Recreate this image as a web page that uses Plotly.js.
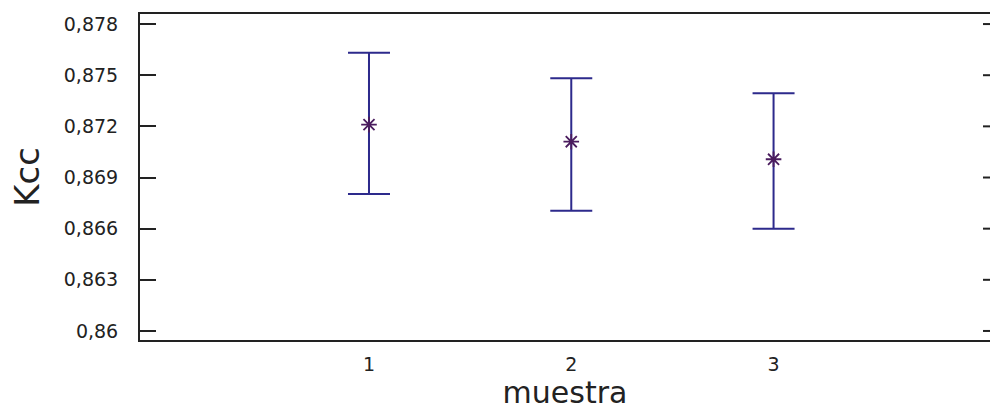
<!DOCTYPE html>
<html>
<head>
<meta charset="utf-8">
<script src="https://cdn.plot.ly/plotly-3.0.1.min.js"></script>
<style>
html,body{margin:0;padding:0;overflow:hidden;background:#fff;}
#chart{width:990px;height:412px;}
</style>
</head>
<body>
<div id="chart"></div>
<script>
var muestras = [1, 2, 3];
var kccMedia = [0.8721, 0.8711, 0.87007];
var kccSuperior = [0.87631, 0.87482, 0.87394];
var kccInferior = [0.86804, 0.86705, 0.86600];
var yTickVals = [0.86, 0.863, 0.866, 0.869, 0.872, 0.875, 0.878];
var yTickText = ['0,86', '0,863', '0,866', '0,869', '0,872', '0,875', '0,878'];
var xTickVals = [1, 2, 3];
var xTickText = ['1', '2', '3'];

var errPlus = kccMedia.map(function(v, i){ return kccSuperior[i] - v; });
var errMinus = kccMedia.map(function(v, i){ return v - kccInferior[i]; });

var trace = {
  x: muestras,
  y: kccMedia,
  type: 'scatter',
  mode: 'markers',
  marker: {symbol: 'asterisk-open', size: 13, color: '#4a1c5e', line: {width: 1.8, color: '#4a1c5e'}},
  error_y: {type: 'data', symmetric: false, array: errPlus, arrayminus: errMinus,
            color: '#2d2a8c', thickness: 2, width: 21},
  showlegend: false,
  hoverinfo: 'none'
};

var yRange = [0.85947, 0.87859];
var plotWidthPx = 850;
var rightTickLenPx = 7;

// short tick marks along the right-hand edge, one per y tick value
var rightTicks = yTickVals.map(function(v){
  return {type: 'line', xref: 'paper', yref: 'y',
          x0: 1 - rightTickLenPx / plotWidthPx, x1: 1, y0: v, y1: v,
          line: {color: '#222222', width: 2}};
});

var layout = {
  width: 990,
  height: 412,
  margin: {l: 140, r: 0, t: 14, b: 72, pad: 0},
  paper_bgcolor: '#ffffff',
  plot_bgcolor: '#ffffff',
  showlegend: false,
  shapes: rightTicks,
  xaxis: {
    range: [-0.132, 4.07],
    tickvals: xTickVals,
    ticktext: xTickText,
    ticks: '',
    showgrid: false,
    zeroline: false,
    showline: true,
    linecolor: '#222222',
    linewidth: 2,
    mirror: true,
    ticklabelstandoff: 6,
    tickfont: {family: 'DejaVu Sans', size: 19, color: '#222222'},
    title: {text: 'muestra', font: {family: 'DejaVu Sans', size: 30, color: '#222222'}, standoff: 4}
  },
  yaxis: {
    range: yRange,
    tickvals: yTickVals,
    ticktext: yTickText,
    ticks: 'inside',
    ticklen: 16,
    tickwidth: 2,
    tickcolor: '#222222',
    showgrid: false,
    zeroline: false,
    showline: true,
    linecolor: '#222222',
    linewidth: 2,
    mirror: false,
    ticklabelstandoff: 16,
    tickfont: {family: 'DejaVu Sans', size: 19, color: '#222222'},
    title: {text: 'Kcc', font: {family: 'DejaVu Sans', size: 34, color: '#222222'}, standoff: 14}
  }
};

Plotly.newPlot('chart', [trace], layout, {displayModeBar: false, staticPlot: true});
</script>
</body>
</html>
